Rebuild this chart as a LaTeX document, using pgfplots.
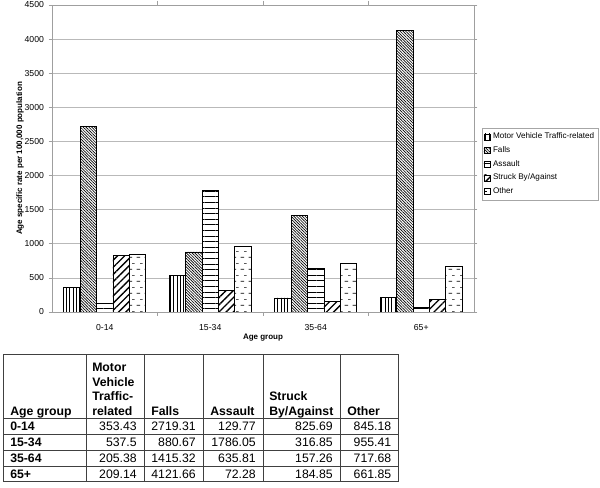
\documentclass[border=0pt]{standalone}
\usepackage{fontspec}
\setmainfont{Liberation Sans}
\usepackage{pgfplots}
\usepackage{pgfplotstable}
\pgfplotsset{compat=1.18}
\usetikzlibrary{patterns,patterns.meta}

\tikzdeclarepattern{
  name=hdashes,
  type=uncolored,
  bounding box={(0pt,0pt) and (6pt,9pt)},
  tile size={(6pt,9pt)},
  code={
    \draw[line width=0.5pt] (0.5pt,2.25pt) -- (3.5pt,2.25pt);
    \draw[line width=0.5pt] (3.5pt,6.75pt) -- (5.5pt,6.75pt);
  }
}

\pgfplotstableread{
x mv falls assault struck other
0 353.43 2719.31 129.77 825.69 845.18
1 537.5 880.67 1786.05 316.85 955.41
2 205.38 1415.32 635.81 157.26 717.68
3 209.14 4121.66 72.28 184.85 661.85
}\datatable

\newcommand{\trow}[7]{%
  \node[anchor=base west] at (10,#1) {\textbf{#2}};
  \node[anchor=base east] at (137,#1) {#3};
  \node[anchor=base east] at (196,#1) {#4};
  \node[anchor=base east] at (256,#1) {#5};
  \node[anchor=base east] at (333,#1) {#6};
  \node[anchor=base east] at (391.5,#1) {#7};
}

\begin{document}
\begin{tikzpicture}
\path[use as bounding box] (0pt,0pt) rectangle (450pt,366pt);
\begin{axis}[
  at={(39pt,132pt)}, anchor=south west,
  scale only axis, width=316.5pt, height=230.25pt,
  ybar=0pt, bar width=0.155,
  xmin=-0.5, xmax=3.5, ymin=0, ymax=4500,
  xtick={0,1,2,3}, xticklabels={0-14,15-34,35-64,65+},
  minor xtick={0.5,1.5,2.5},
  ytick={0,500,...,4500},
  ymajorgrids, grid style={gray!55, line width=0.5pt},
  axis line style={gray!75, line width=0.6pt},
  tick align=outside,
  major tick length=2.5pt, minor tick length=3pt,
  major x tick style={draw=none},
  minor x tick style={gray!75, line width=0.5pt},
  y tick style={gray!75, line width=0.5pt},
  /pgf/number format/assume math mode=true,
  /pgf/number format/1000 sep={},
  tick label style={font=\fontsize{6.5}{7}\selectfont},
  xticklabel style={yshift=-3pt},
  xlabel={\textbf{Age group}}, ylabel={\textbf{Age specific rate per 100,000 population}},
  every axis x label/.style={at={(axis description cs:0.5,-0.085)}, anchor=center, font=\fontsize{6}{7}\selectfont},
  every axis y label/.style={at={(axis description cs:-0.0758,0.5)}, anchor=center, rotate=90, font=\fontsize{6}{7}\selectfont},
  legend style={at={(axis description cs:1.019,0.599)}, anchor=north west,
    draw=gray!70, line width=0.5pt, font=\fontsize{6.1}{7}\selectfont, inner xsep=1pt, inner ysep=1.5pt,
    row sep=0.3pt, cells={anchor=west}},
  legend image code/.code={\draw[#1, draw=black, line width=0.4pt] (0pt,-2.3pt) rectangle (4.6pt,2.3pt);},
  every axis plot/.append style={draw=black, line width=0.6pt, fill=white},
]
\addplot[postaction={pattern={Lines[angle=90,distance=2.6pt,line width=0.45pt]}}] table[x=x,y=mv] {\datatable};
\addplot[postaction={pattern={Lines[angle=-45,distance=1.5pt,line width=0.5pt]}}] table[x=x,y=falls] {\datatable};
\addplot[postaction={pattern={Lines[angle=0,distance=4.2pt,line width=0.45pt]}}] table[x=x,y=assault] {\datatable};
\addplot[postaction={pattern={Lines[angle=45,distance=3.8pt,line width=1pt]}}] table[x=x,y=struck] {\datatable};
\addplot[postaction={pattern=hdashes}] table[x=x,y=other] {\datatable};
\legend{Motor Vehicle Traffic-related, Falls, Assault, Struck By/Against, Other}
\end{axis}

\begin{scope}[x=0.75pt, y=-0.75pt, yshift=366pt, font=\fontsize{9.2}{11}\selectfont, every node/.style={inner sep=0pt}]
  \draw[line width=0.75pt, black!75] (3,355) rectangle (398,482);
  \foreach \X in {86,144,203,263,340} \draw[line width=0.75pt, black!75] (\X,355) -- (\X,482);
  \foreach \Y in {419,434.75,450.5,466.25} \draw[line width=0.75pt, black!75] (3,\Y) -- (398,\Y);
  \node[anchor=base west] at (10,416) {\textbf{Age group}};
  \node[anchor=base west] at (92,372) {\textbf{Motor}};
  \node[anchor=base west] at (92,386.5) {\textbf{Vehicle}};
  \node[anchor=base west] at (92,401) {\textbf{Traffic-}};
  \node[anchor=base west] at (92,416) {\textbf{related}};
  \node[anchor=base west] at (151,416) {\textbf{Falls}};
  \node[anchor=base west] at (210,416) {\textbf{Assault}};
  \node[anchor=base west] at (269,401) {\textbf{Struck}};
  \node[anchor=base west] at (269,416) {\textbf{By/Against}};
  \node[anchor=base west] at (347,416) {\textbf{Other}};
  \trow{431}{0-14}{353.43}{2719.31}{129.77}{825.69}{845.18}
  \trow{446.75}{15-34}{537.5}{880.67}{1786.05}{316.85}{955.41}
  \trow{462.5}{35-64}{205.38}{1415.32}{635.81}{157.26}{717.68}
  \trow{478.25}{65+}{209.14}{4121.66}{72.28}{184.85}{661.85}
\end{scope}
\end{tikzpicture}
\end{document}
